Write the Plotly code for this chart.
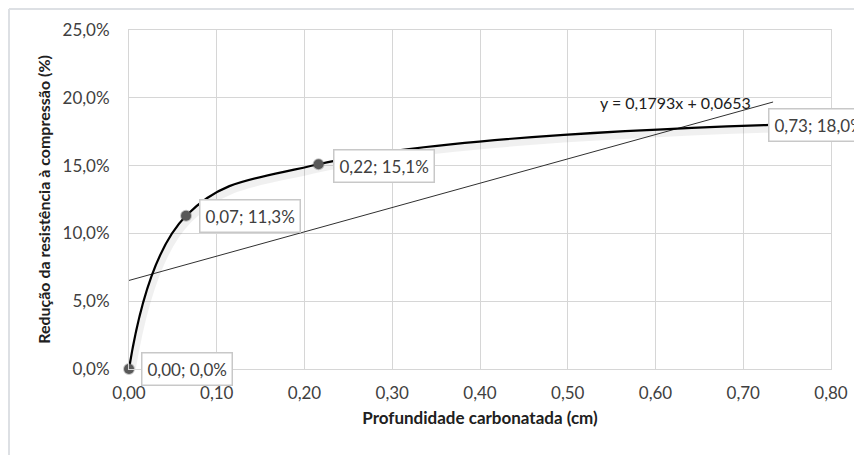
import plotly.graph_objects as go

# Data
depth_cm = [0.00, 0.065, 0.216, 0.73]
reduction = [0.000, 0.113, 0.151, 0.180]
labels = ["0,00; 0,0%", "0,07; 11,3%", "0,22; 15,1%", "0,73; 18,0%"]
trend_slope = 0.1793
trend_intercept = 0.0653
trend_x = [0.0, 0.734]
trend_label = "y = 0,1793x + 0,0653"
x_ticks = [0.0, 0.1, 0.2, 0.3, 0.4, 0.5, 0.6, 0.7, 0.8]
y_ticks = [0.0, 0.05, 0.10, 0.15, 0.20, 0.25]

trend_y = [trend_slope * x + trend_intercept for x in trend_x]

font_family = "Lato, 'Open Sans', sans-serif"

L, R, T, B = 121, 39, 22, 94
W, H = 862, 455
pw, ph = W - L - R, H - T - B

fig = go.Figure()

# soft shadow underneath the curve
fig.add_trace(go.Scatter(
    x=[v + 0.003 for v in depth_cm], y=[v - 0.003 for v in reduction], mode="lines",
    line=dict(color="rgba(0,0,0,0.06)", width=7, shape="spline", smoothing=1.15),
    hoverinfo="skip", showlegend=False))

fig.add_trace(go.Scatter(
    x=trend_x, y=trend_y, mode="lines",
    line=dict(color="#303030", width=1),
    showlegend=False))

fig.add_trace(go.Scatter(
    x=depth_cm, y=reduction, mode="lines",
    line=dict(color="#000000", width=2.2, shape="spline", smoothing=1.15),
    showlegend=False))

fig.add_trace(go.Scatter(
    x=depth_cm[:3], y=reduction[:3], mode="markers", cliponaxis=False,
    marker=dict(color="#595959", size=10, line=dict(color="rgba(89,89,89,0.35)", width=2)),
    showlegend=False))

offsets = [(12, 0), (13, 0), (14, -2), (-2, 0)]
for x, y, t, (dx, dy) in zip(depth_cm, reduction, labels, offsets):
    fig.add_annotation(
        x=x, y=y, text=t, showarrow=False, xanchor="left", yanchor="middle",
        xshift=dx, yshift=dy,
        font=dict(family=font_family, size=17, color="#404040"),
        bgcolor="white", bordercolor="#c8c8c8", borderwidth=1.5, borderpad=5)

fig.add_annotation(
    x=trend_x[1], y=trend_y[1], text=trend_label, showarrow=False,
    xanchor="right", yanchor="middle", xshift=-20, yshift=0,
    font=dict(family=font_family, size=16, color="#202020"))

# outer chart frame (left and top)
fx = (1 - L) / pw
fy = 1 + (T - 1) / ph
fig.add_shape(type="line", xref="paper", yref="paper", x0=fx, x1=fx, y0=-B / ph, y1=fy,
              line=dict(color="#dde0e4", width=2))
fig.add_shape(type="line", xref="paper", yref="paper", x0=fx, x1=1 + R / pw, y0=fy, y1=fy,
              line=dict(color="#dde0e4", width=2))

fig.update_layout(
    width=W, height=H,
    margin=dict(l=L, r=R, t=T, b=B, autoexpand=False),
    paper_bgcolor="white", plot_bgcolor="white",
    separators=",.",
    font=dict(family=font_family, size=17, color="#404040"),
    xaxis=dict(
        range=[0, 0.8], tickvals=x_ticks, tickformat=".2f",
        showgrid=True, gridcolor="#d6d6d6", gridwidth=1,
        zeroline=False, showline=True, linecolor="#d6d6d6", mirror=True,
        ticks="outside", ticklen=9, tickcolor="rgba(0,0,0,0)",
        tickfont=dict(size=17, color="#404040"),
        title=dict(text="<b>Profundidade carbonatada (cm)</b>",
                   font=dict(size=17, color="#202020"), standoff=9),
    ),
    yaxis=dict(
        range=[0, 0.25], tickvals=y_ticks, tickformat=".1%",
        showgrid=True, gridcolor="#d6d6d6", gridwidth=1,
        zeroline=False, showline=True, linecolor="#d6d6d6", mirror=True,
        ticks="outside", ticklen=15, tickcolor="rgba(0,0,0,0)",
        tickfont=dict(size=17, color="#404040"),
        title=dict(text="<b>Redução da resistência à compressão (%)</b>",
                   font=dict(size=16, color="#202020"), standoff=7),
    ),
)

fig.write_html("out.html")
